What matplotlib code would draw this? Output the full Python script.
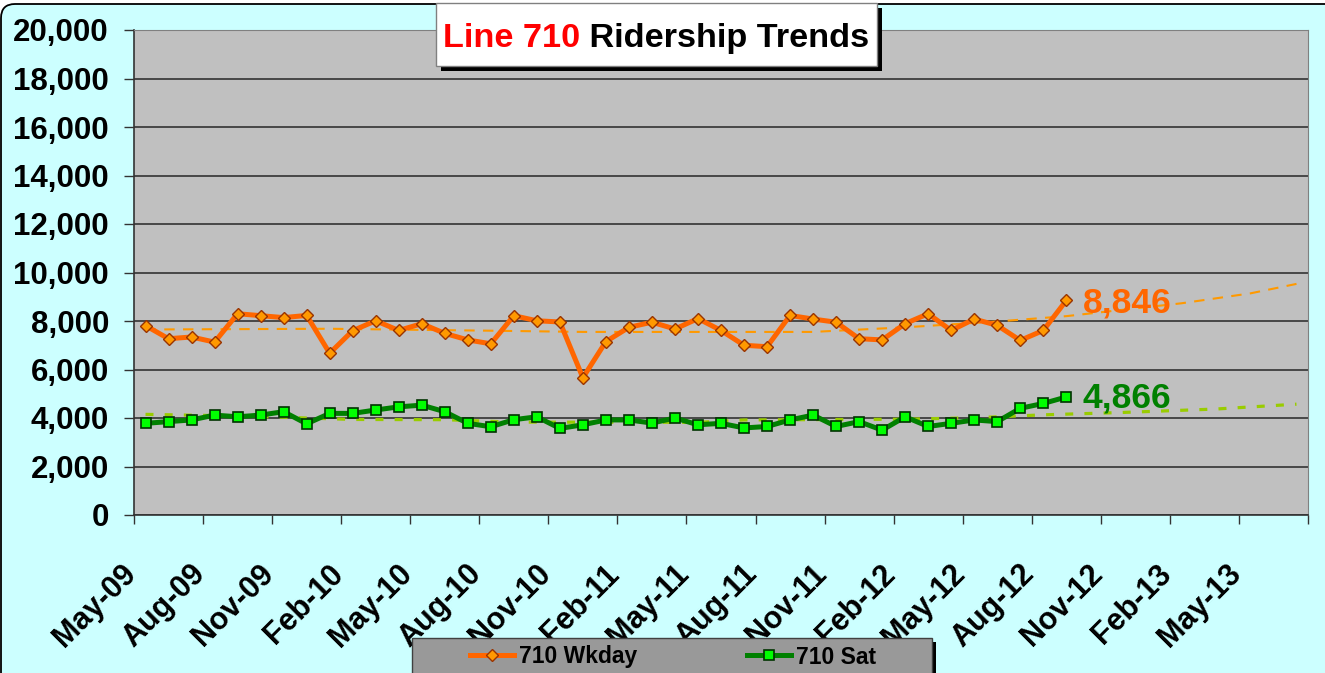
import matplotlib
matplotlib.use('Agg')
import matplotlib.pyplot as plt
from matplotlib.patches import Rectangle, FancyBboxPatch
from matplotlib.lines import Line2D
from matplotlib.transforms import ScaledTranslation
import numpy as np

plt.rcParams['font.family'] = ['Liberation Sans', 'DejaVu Sans']
plt.rcParams['font.weight'] = 'bold'

W, H, DPI = 1325, 673, 100

# ---- data ----
tick_labels = ['May-09', 'Aug-09', 'Nov-09', 'Feb-10', 'May-10', 'Aug-10',
               'Nov-10', 'Feb-11', 'May-11', 'Aug-11', 'Nov-11', 'Feb-12',
               'May-12', 'Aug-12', 'Nov-12', 'Feb-13', 'May-13']
n_categories = 51  # May-09 .. Jul-13 (monthly)

wkday = [7810, 7270, 7340, 7130, 8300, 8220, 8140, 8230, 6670, 7600,
         8010, 7610, 7890, 7490, 7220, 7060, 8220, 8010, 7960, 5660,
         7150, 7740, 7950, 7670, 8100, 7610, 7000, 6940, 8230, 8080,
         7950, 7270, 7220, 7890, 8300, 7610, 8080, 7820, 7200, 7610,
         8846]
sat = [3780, 3850, 3920, 4120, 4050, 4120, 4260, 3760, 4190, 4190,
       4330, 4460, 4530, 4260, 3780, 3640, 3930, 4050, 3570, 3720,
       3920, 3920, 3790, 4000, 3720, 3780, 3590, 3650, 3920, 4120,
       3650, 3850, 3500, 4050, 3650, 3780, 3920, 3850, 4400, 4600,
       4866]

wk_trend_idx = [0, 8, 15, 19, 29, 33, 37, 40, 43, 45, 48, 50]
wk_trend_val = [7650, 7680, 7600, 7550, 7550, 7740, 7980, 8200, 8520, 8730, 9140, 9530]
sat_trend_idx = [0, 3, 6, 9, 13, 16, 24, 26, 33, 36, 39, 42.5, 46.5, 50]
sat_trend_val = [4150, 4100, 4030, 3940, 3930, 3830, 3820, 3920, 3950, 4010, 4130, 4230, 4370, 4570]

series_names = ['710 Wkday', '710 Sat']

# ---- figure ----
fig = plt.figure(figsize=(W / DPI, H / DPI), dpi=DPI, facecolor='white')

bg = fig.add_axes([0, 0, 1, 1], zorder=0)
bg.set_xlim(0, W)
bg.set_ylim(H, 0)
bg.axis('off')
bg.add_patch(FancyBboxPatch((1, 4), W + 30, H + 30,
                            boxstyle='round,pad=0,rounding_size=14',
                            fc='#CCFFFF', ec='black', lw=1.3))

ax = fig.add_axes([134 / W, 1 - 515 / H, 1174 / W, 485 / H], zorder=1)
ax.set_facecolor('#C0C0C0')
ax.set_xlim(0, n_categories)
ax.set_ylim(0, 20000)

yt = list(range(0, 20001, 2000))
ax.set_yticks(yt)
ax.set_yticklabels([f"{v:,}" for v in yt])
ax.yaxis.grid(True, color='#333333', lw=1.2)
ax.set_axisbelow(True)

xt = list(range(0, n_categories + 1, 3))
ax.set_xticks(xt)
ax.set_xticklabels(tick_labels + [''] * (len(xt) - len(tick_labels)))
ax.tick_params(axis='x', direction='out', length=6.5, width=1, color='#333333',
               pad=25, labelsize=22)
ax.tick_params(axis='y', direction='out', length=7, width=1, color='#333333',
               pad=11, labelsize=22.5)
off = ScaledTranslation(-13 / DPI, 0, fig.dpi_scale_trans)
for lbl in ax.get_xticklabels():
    lbl.set_rotation(45)
    lbl.set_ha('right')
    lbl.set_va('top')
    lbl.set_rotation_mode('anchor')
    lbl.set_transform(lbl.get_transform() + off)
for s in ['top', 'right']:
    ax.spines[s].set_color('#808080')
for s in ['left', 'bottom']:
    ax.spines[s].set_color('#333333')
    ax.spines[s].set_linewidth(1.2)

xw = np.arange(len(wkday)) + 0.5
xs = np.arange(len(sat)) + 0.5
ax.plot(np.array(wk_trend_idx) + 0.5, wk_trend_val, color='#FF9900', lw=1.5,
        ls=(0, (5, 4)), zorder=3)
ax.plot(np.array(sat_trend_idx) + 0.5, sat_trend_val, color='#99CC00', lw=2.3,
        ls=(0, (2.5, 3.5)), zorder=3)
ax.plot(xw, wkday, color='#FF6600', lw=3.6, marker='D', ms=6.5, mfc='#FF9900',
        mec='#993300', mew=1, zorder=4)
ax.plot(xs, sat, color='#008000', lw=3.6, marker='s', ms=6.5, mfc='#00FF00',
        mec='#003300', mew=1.2, zorder=4)

ax.annotate(f"{wkday[-1]:,}", xy=(xw[-1], wkday[-1]), xytext=(12, -1.5),
            textcoords='offset points', ha='left', va='center',
            color='#FF6600', fontsize=25.5, fontweight='bold', zorder=6)
ax.annotate(f"{sat[-1]:,}", xy=(xs[-1], sat[-1]), xytext=(12, -1),
            textcoords='offset points', ha='left', va='center',
            color='#008000', fontsize=25.5, fontweight='bold', zorder=6)

# ---- overlay: title box and legend box ----
ov = fig.add_axes([0, 0, 1, 1], zorder=5)
ov.set_xlim(0, W)
ov.set_ylim(H, 0)
ov.axis('off')
ov.patch.set_alpha(0)
ov.add_patch(Rectangle((441, 8), 441, 63, fc='black', ec='none'))
ov.add_patch(Rectangle((436, 3), 441, 63, fc='white', ec='#808080', lw=1))
t1 = ov.text(443, 46.7, 'Line 710', color='#FF0000', fontsize=24.7,
             fontweight='bold', va='baseline', ha='left')
r = fig.canvas.get_renderer()
bb = t1.get_window_extent(r)
ov.text(bb.x1, 46.7, ' Ridership Trends', color='black', fontsize=24.7,
        fontweight='bold', va='baseline', ha='left')

ov.add_patch(Rectangle((416, 642), 520, 45, fc='black', ec='none'))
ov.add_patch(Rectangle((412, 638), 520, 45, fc='#999999', ec='#404040', lw=1))

handles = [
    Line2D([], [], color='#FF6600', lw=3.6, marker='D', ms=6.5, mfc='#FF9900',
           mec='#993300', mew=1),
    Line2D([], [], color='#008000', lw=3.6, marker='s', ms=6.5, mfc='#00FF00',
           mec='#003300', mew=1.2),
]
leg = fig.legend(handles, series_names, loc='center left',
                 bbox_to_anchor=(470 / W, 1 - 657 / H), ncol=2, frameon=False,
                 prop={'size': 16.5, 'weight': 'bold'}, handlelength=1.92,
                 handletextpad=0.22, columnspacing=4.8, borderpad=0,
                 borderaxespad=0)
leg.set_zorder(10)

fig.savefig('out.png', dpi=DPI, facecolor=fig.get_facecolor())
